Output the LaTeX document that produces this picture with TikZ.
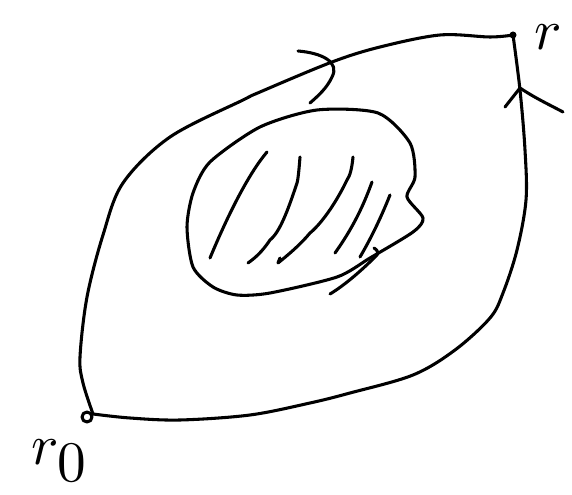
\documentclass[tikz,border=0pt]{standalone}
\tikzset{every picture/.style={line width=0.75pt}}
\tikzset{pen/.style={line width=2.3pt,line cap=round,line join=round}}
\tikzset{lbl/.style={scale=4.3,inner sep=0pt}}

\begin{document}
\begin{tikzpicture}[x=0.75pt,y=0.75pt,yscale=-1,xscale=1]
\useasboundingbox (0,0) rectangle (572,495);

\coordinate (r0) at (93,414);
\coordinate (r) at (513,35);

%Shape: Path upper branch
\draw [pen] plot [smooth,tension=0.55] coordinates {(r0) (83,383) (80,357) (87,297) (103,235) (123,183) (170,137) (243,100) (260,92) (332,62) (380,47) (440,35) (490,37) (r)};
%Shape: Path lower branch
\draw [pen] plot [smooth,tension=0.55] coordinates {(r0) (130,418) (180,420) (250,415) (310,403) (350,393) (413,375) (455,350) (490,318) (503,293) (517,250) (526,200) (525,150) (520,90) (r)};
%Shape: End points
\draw [pen] (87,417) circle [radius=5];
\fill (r) circle [radius=3.5];

%Shape: Arrow on lower branch
\draw [pen] (505,107) -- (520,88) .. controls (535,98) and (548,104) .. (563,112);
%Shape: Mark on upper branch
\draw [pen] (298,51) .. controls (322,53) and (340,62) .. (332,77) .. controls (327,88) and (318,96) .. (310,103);

%Shape: Hole
\draw [pen] plot [smooth cycle,tension=0.45] coordinates {(210,162) (260,127) (317,110) (378,113) (410,143) (415,177) (407,197) (423,218) (413,232) (370,258) (337,277) (270,293) (237,295) (213,287) (193,267) (187,227) (193,193)};
%Shape: Hatching
\draw [pen] (267,152) .. controls (250,172) and (230,210) .. (210,258);
\draw [pen] (300,157) .. controls (299,170) and (298,180) .. (297,183) .. controls (288,210) and (280,232) .. (270,240) .. controls (262,252) and (255,258) .. (248,263);
\draw [pen] (353,157) .. controls (352,168) and (350,176) .. (347,180) .. controls (335,205) and (320,225) .. (310,233) .. controls (300,245) and (288,255) .. (278,263) -- (280,258);
\draw [pen] (372,182) .. controls (362,210) and (350,232) .. (335,253);
\draw [pen] (390,195) .. controls (380,220) and (370,240) .. (360,257);
\draw [pen] (374,248) .. controls (378,250) and (379,254) .. (376,256) .. controls (362,270) and (345,285) .. (330,294);

% Text Node
\node (lblr) [lbl] at (548,37) {$r$};
% Text Node
\node (lblr0) [lbl] at (60,461) {$r_{\textstyle 0}$};

\end{tikzpicture}
\end{document}
